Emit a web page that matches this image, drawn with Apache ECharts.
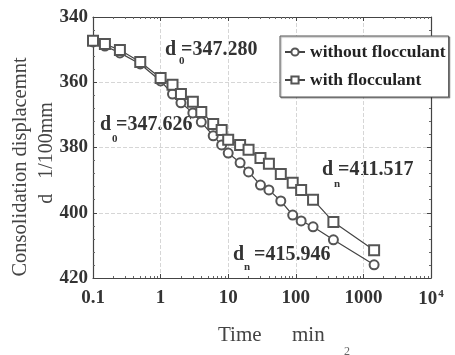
<!DOCTYPE html>
<html><head><meta charset="utf-8">
<script src="https://cdn.jsdelivr.net/npm/echarts@6/dist/echarts.min.js"></script>
<style>html,body{margin:0;padding:0;background:#fff}#c{width:455px;height:355px}</style>
</head><body><div id="c"></div>
<script>
const times = [0.1, 0.15, 0.25, 0.5, 1, 1.5, 2, 3, 4, 6, 8, 10, 15, 20, 30, 40, 60, 90, 120, 180, 360, 1440];
const withoutFloc = [347.626, 348.9, 351.0, 354.4, 359.6, 363.6, 366.3, 369.4, 372.2, 376.4, 379.2, 381.7, 384.7, 387.5, 391.5, 393.0, 396.4, 400.7, 402.5, 404.3, 408.3, 415.946];
const withFloc = [347.280, 348.3, 350.1, 353.8, 358.7, 360.8, 363.6, 366.0, 369.1, 372.8, 374.6, 377.6, 379.2, 380.7, 383.2, 385.0, 388.1, 390.8, 393.0, 396.0, 402.8, 411.517];
const xTickLabels = {0.1: '0.1', 1: '1', 10: '10', 100: '100', 1000: '1000', 10000: '10{sup|4}'};
const seriesNames = ['without flocculant', 'with flocculant'];

const chart = echarts.init(document.getElementById('c'), null, {renderer: 'canvas'});
const serif = '"Liberation Serif","DejaVu Serif",serif';
const ink = '#444';
const pairs = arr => times.map((t, i) => [t, arr[i]]);
const boxAxisX = {
  type: 'log', logBase: 10, min: 0.1, max: 10000,
  axisLine: {show: true, lineStyle: {color: ink, width: 1.2}},
  axisTick: {show: true, inside: true, length: 4, lineStyle: {color: ink}},
  minorTick: {show: true, splitNumber: 9, length: 2, lineStyle: {color: '#666'}},
  splitLine: {show: false}
};
const boxAxisY = {
  type: 'value', min: 340, max: 420, interval: 20, inverse: true,
  axisLine: {show: true, lineStyle: {color: ink, width: 1.2}},
  axisTick: {show: true, inside: true, length: 4, lineStyle: {color: ink}},
  minorTick: {show: true, splitNumber: 5, length: 2, lineStyle: {color: '#666'}},
  splitLine: {show: false}
};
const annBig = {fontFamily: serif, fontWeight: 'bold', fontSize: 20, fill: '#333'};
const annSub = {fontFamily: serif, fontWeight: 'bold', fontSize: 11, fill: '#333'};
const option = {
  backgroundColor: '#fff',
  animation: false,
  grid: {left: 93, right: 24, top: 17, bottom: 77, containLabel: false},
  legend: {
    orient: 'vertical', left: 280, top: 36,
    data: seriesNames,
    backgroundColor: '#fff', borderColor: '#555', borderWidth: 1,
    padding: [7, 3, 8, 4], itemGap: 10, itemWidth: 20, itemHeight: 9,
    shadowColor: 'rgba(0,0,0,0.35)', shadowOffsetX: 1, shadowOffsetY: 1, shadowBlur: 1,
    textStyle: {fontFamily: serif, fontWeight: 'bold', fontSize: 17.5, color: '#222'}
  },
  xAxis: [
    Object.assign({}, boxAxisX, {
      position: 'bottom',
      axisLabel: {
        margin: 11, fontFamily: serif, fontWeight: 'bold', fontSize: 19, color: '#333',
        formatter: v => xTickLabels[+v.toPrecision(6)] || '',
        rich: {sup: {fontFamily: serif, fontWeight: 'bold', fontSize: 11, color: '#333', verticalAlign: 'top', padding: [0, 0, 10, 1]}}
      },
      splitLine: {show: true, lineStyle: {color: '#d6d6d6', type: 'dashed', width: 1}}
    }),
    Object.assign({}, boxAxisX, {position: 'top', axisLabel: {show: false}})
  ],
  yAxis: [
    Object.assign({}, boxAxisY, {
      position: 'left',
      axisLabel: {margin: 5, fontFamily: serif, fontWeight: 'bold', fontSize: 19, color: '#333'},
      splitLine: {show: true, lineStyle: {color: '#d6d6d6', type: 'dashed', width: 1}}
    }),
    Object.assign({}, boxAxisY, {position: 'right', axisLabel: {show: false}})
  ],
  series: [
    {
      name: seriesNames[0], type: 'line', data: pairs(withoutFloc),
      symbol: 'emptyCircle', symbolSize: 9,
      lineStyle: {color: ink, width: 1.2},
      itemStyle: {color: '#555', borderColor: '#555', borderWidth: 1},
      z: 3
    },
    {
      name: seriesNames[1], type: 'line', data: pairs(withFloc),
      symbol: 'emptyRect', symbolSize: 10,
      lineStyle: {color: ink, width: 1.2},
      itemStyle: {color: '#555', borderColor: '#555', borderWidth: 1},
      z: 3
    }
  ],
  graphic: [
    {type: 'text', rotation: Math.PI / 2, x: 21, y: 167, style: {text: 'Consolidation displacemnt', fontFamily: serif, fontSize: 20.5, fill: '#444', align: 'center', verticalAlign: 'middle'}},
    {type: 'text', rotation: Math.PI / 2, x: 47, y: 153, style: {text: 'd   1/100mm', fontFamily: serif, fontSize: 20, fill: '#444', align: 'center', verticalAlign: 'middle'}},
    {type: 'text', x: 218, y: 335, style: {text: 'Time', fontFamily: serif, fontSize: 21, fill: '#444', align: 'left', verticalAlign: 'middle'}},
    {type: 'text', x: 292, y: 335, style: {text: 'min', fontFamily: serif, fontSize: 21, fill: '#444', align: 'left', verticalAlign: 'middle'}},
    {type: 'text', x: 347, y: 346, style: {text: '2', fontFamily: serif, fontSize: 12, fill: '#666', align: 'center', verticalAlign: 'top'}},
    {type: 'text', x: 165, y: 40, style: Object.assign({text: 'd =347.280'}, annBig)},
    {type: 'text', x: 179, y: 56, style: Object.assign({text: '0'}, annSub)},
    {type: 'text', x: 100, y: 115, style: Object.assign({text: 'd =347.626'}, annBig)},
    {type: 'text', x: 112, y: 134, style: Object.assign({text: '0'}, annSub)},
    {type: 'text', x: 322, y: 160, style: Object.assign({text: 'd =411.517'}, annBig)},
    {type: 'text', x: 334, y: 179, style: Object.assign({text: 'n'}, annSub)},
    {type: 'text', x: 233, y: 245, style: Object.assign({text: 'd  =415.946'}, annBig)},
    {type: 'text', x: 244, y: 262, style: Object.assign({text: 'n'}, annSub)}
  ]
};
chart.setOption(option);
</script></body></html>
